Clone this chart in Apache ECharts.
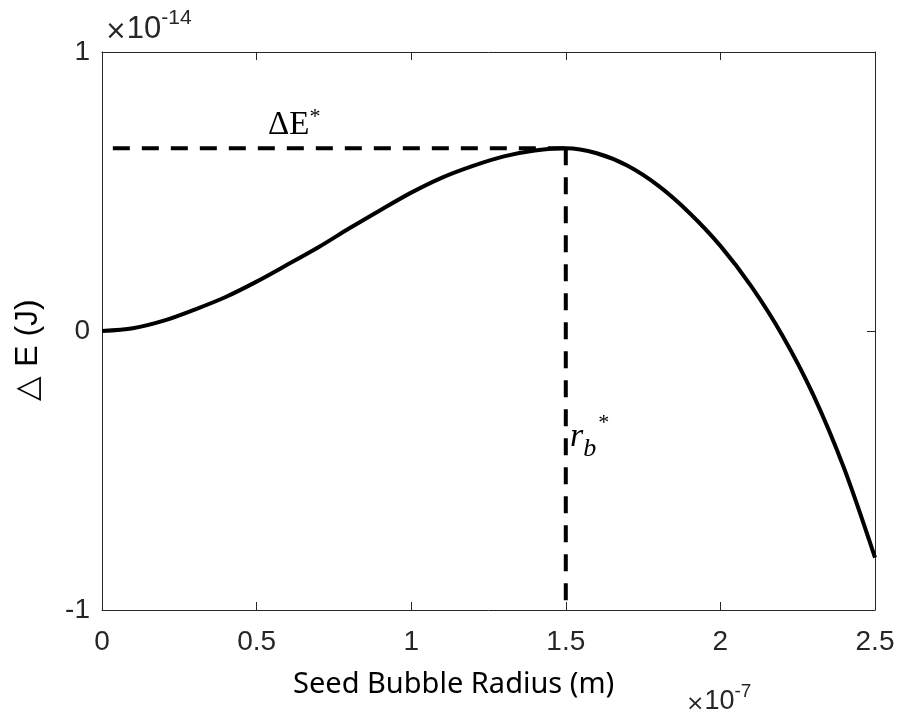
<!DOCTYPE html>
<html>
<head>
<meta charset="utf-8">
<script src="https://cdn.jsdelivr.net/npm/echarts@6/dist/echarts.min.js"></script>
<style>
  html, body { margin: 0; padding: 0; background: #fff; }
  #chart { width: 899px; height: 715px; }
</style>
</head>
<body>
<div id="chart"></div>
<script>
// Seed bubble radius (×1e-7 m) and nucleation energy barrier ΔE (×1e-14 J)
const radius = [0, 0.1, 0.2, 0.3, 0.4, 0.5, 0.6, 0.7, 0.8, 0.9, 1.0, 1.1, 1.2, 1.3,
                1.4, 1.5, 1.6, 1.7, 1.8, 1.9, 2.0, 2.1, 2.2, 2.3, 2.4, 2.5];
const energy = [0, 0.010, 0.037, 0.077, 0.122, 0.177, 0.238, 0.300, 0.368, 0.433,
                0.496, 0.550, 0.592, 0.626, 0.647, 0.655, 0.637, 0.592, 0.520, 0.423,
                0.305, 0.160, -0.015, -0.228, -0.492, -0.812];

// Critical point (r_b*, ΔE*)
const criticalRadius = 1.5;
const criticalEnergy = 0.655;
const guideStartX = 0.035;

const xTicks = [0, 0.5, 1, 1.5, 2, 2.5];
const yTicks = [-1, 0, 1];

const axisColor = '#262626';
const tickFont = { fontFamily: 'Liberation Sans, Arial, sans-serif', fontSize: 28, color: '#262626' };

const chart = echarts.init(document.getElementById('chart'));

const baseX = {
  type: 'value', min: 0, max: 2.5, interval: 0.5,
  axisLine: { show: true, onZero: false, lineStyle: { color: axisColor, width: 1 } },
  axisTick: { show: true, inside: true, length: 8, lineStyle: { color: axisColor, width: 1 } },
  splitLine: { show: false }
};
const baseY = {
  type: 'value', min: -1, max: 1, interval: 1,
  axisLine: { show: true, onZero: false, lineStyle: { color: axisColor, width: 1 } },
  axisTick: { show: true, inside: true, length: 8, lineStyle: { color: axisColor, width: 1 } },
  splitLine: { show: false }
};

chart.setOption({
  animation: false,
  grid: { left: 102, top: 52, right: 24, bottom: 105, containLabel: false },
  xAxis: [
    Object.assign({}, baseX, {
      position: 'bottom',
      axisLabel: Object.assign({ margin: 18, formatter: v => xTicks.includes(v) ? String(v) : '' }, tickFont)
    }),
    Object.assign({}, baseX, { position: 'top', axisLabel: { show: false } })
  ],
  yAxis: [
    Object.assign({}, baseY, {
      position: 'left',
      axisLabel: Object.assign({ margin: 12, formatter: v => yTicks.includes(v) ? String(v) : '' }, tickFont)
    }),
    Object.assign({}, baseY, { position: 'right', axisLabel: { show: false } })
  ],
  series: [
    {
      type: 'line',
      name: 'ΔE',
      data: radius.map((r, i) => [r, energy[i]]),
      smooth: 0.3,
      showSymbol: false,
      lineStyle: { color: '#000', width: 4 },
      z: 3
    },
    {
      type: 'line',
      name: 'ΔE* guide',
      data: [[guideStartX, criticalEnergy], [criticalRadius, criticalEnergy]],
      showSymbol: false,
      lineStyle: { color: '#000', width: 4, type: [17, 12] },
      z: 2
    },
    {
      type: 'line',
      name: 'r_b* guide',
      data: [[criticalRadius, criticalEnergy], [criticalRadius, -1]],
      showSymbol: false,
      lineStyle: { color: '#000', width: 4, type: [17, 12] },
      z: 2
    }
  ],
  graphic: [
    {
      type: 'text', left: 105, top: 8,
      style: {
        text: '{x|×}{b|10}{s|-14}',
        rich: {
          x: { fontFamily: 'DejaVu Sans, sans-serif', fontSize: 26, fill: '#262626', verticalAlign: 'bottom' },
          b: { fontFamily: 'Liberation Sans, Arial, sans-serif', fontSize: 31, fill: '#262626', verticalAlign: 'bottom' },
          s: { fontFamily: 'Liberation Sans, Arial, sans-serif', fontSize: 21, fill: '#262626', verticalAlign: 'top', padding: [0, 0, 16, 0] }
        }
      }
    },
    {
      type: 'text', left: 686, top: 682,
      style: {
        text: '{x|×}{b|10}{s|-7}',
        rich: {
          x: { fontFamily: 'DejaVu Sans, sans-serif', fontSize: 22, fill: '#262626', verticalAlign: 'bottom' },
          b: { fontFamily: 'Liberation Sans, Arial, sans-serif', fontSize: 27, fill: '#262626', verticalAlign: 'bottom' },
          s: { fontFamily: 'Liberation Sans, Arial, sans-serif', fontSize: 19, fill: '#262626', verticalAlign: 'top', padding: [0, 0, 14, 0] }
        }
      }
    },
    {
      type: 'text', left: 293, top: 670,
      style: {
        text: 'Seed Bubble Radius (m)',
        fontFamily: 'Noto Sans, Open Sans, sans-serif',
        fontSize: 29, fill: '#000'
      }
    },
    {
      type: 'text', x: 28, y: 350, rotation: Math.PI / 2,
      style: {
        text: '△ E (J)',
        fontFamily: 'Liberation Sans, Arial, sans-serif',
        fontSize: 32, fill: '#000',
        align: 'center', verticalAlign: 'middle'
      },
      originX: 0, originY: 0
    },
    {
      type: 'text', left: 268, top: 106,
      style: {
        text: '{t|ΔE}{s|*}',
        rich: {
          t: { fontFamily: 'Liberation Serif, DejaVu Serif, serif', fontSize: 33, fill: '#000', verticalAlign: 'bottom' },
          s: { fontFamily: 'Liberation Serif, DejaVu Serif, serif', fontSize: 22, fill: '#000', verticalAlign: 'top', padding: [0, 0, 14, 0] }
        }
      }
    },
    {
      type: 'text', left: 570, top: 412,
      style: {
        text: '{r|r}{b|b}{s|*}',
        rich: {
          r: { fontFamily: 'Liberation Serif, DejaVu Serif, serif', fontStyle: 'italic', fontSize: 34, fill: '#000', verticalAlign: 'bottom' },
          b: { fontFamily: 'Liberation Serif, DejaVu Serif, serif', fontStyle: 'italic', fontSize: 26, fill: '#000', verticalAlign: 'bottom', padding: [0, 2, -8, 0] },
          s: { fontFamily: 'Liberation Serif, DejaVu Serif, serif', fontSize: 22, fill: '#000', verticalAlign: 'top', padding: [0, 0, 20, 0] }
        }
      }
    }
  ]
});
</script>
</body>
</html>
